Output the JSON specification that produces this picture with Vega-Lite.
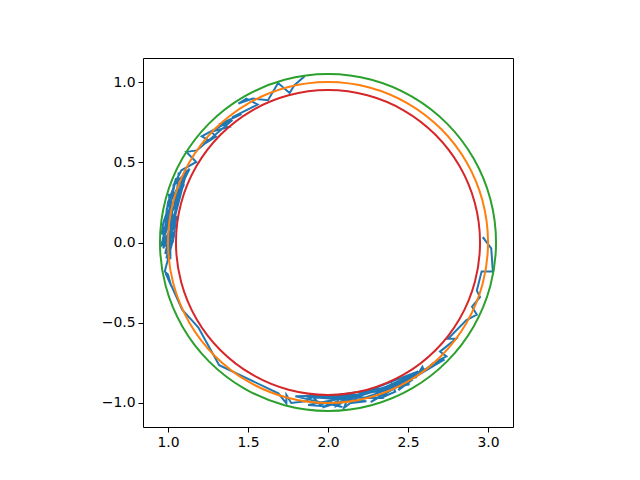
{
  "$schema": "https://vega.github.io/schema/vega-lite/v6.json",
  "width": 370,
  "height": 369,
  "autosize": {"type": "none"},
  "padding": {"left": 143, "top": 58, "right": 127, "bottom": 53},
  "background": "white",
  "config": {
    "view": {"stroke": "black", "strokeWidth": 1},
    "axis": {
      "grid": false,
      "domain": false,
      "ticks": true,
      "tickColor": "black",
      "tickSize": 5,
      "tickWidth": 1,
      "labelColor": "black",
      "labelFont": "DejaVu Sans",
      "labelFontSize": 13.9,
      "labelPadding": 3,
      "title": null
    }
  },
  "datasets": {
    "path": [
      {"o":1,"x":1.854,"y":1.036},{"o":2,"x":1.79,"y":0.98},{"o":3,"x":1.76,"y":0.932},{"o":4,"x":1.688,"y":0.994},
      {"o":5,"x":1.625,"y":0.887},{"o":6,"x":1.53,"y":0.897},{"o":7,"x":1.44,"y":0.866},{"o":8,"x":1.49,"y":0.897},
      {"o":9,"x":1.56,"y":0.86},{"o":10,"x":1.40,"y":0.78},{"o":11,"x":1.46,"y":0.80},{"o":12,"x":1.33,"y":0.74},
      {"o":13,"x":1.38,"y":0.72},{"o":14,"x":1.27,"y":0.69},{"o":15,"x":1.30,"y":0.66},{"o":16,"x":1.22,"y":0.61},
      {"o":17,"x":1.25,"y":0.64},{"o":18,"x":1.211,"y":0.662},{"o":19,"x":1.403,"y":0.764},{"o":20,"x":1.181,"y":0.574},
      {"o":21,"x":1.115,"y":0.565},{"o":22,"x":1.177,"y":0.502},{"o":23,"x":1.084,"y":0.45},{"o":24,"x":1.032,"y":0.352},
      {"o":25,"x":1.135,"y":0.46},{"o":26,"x":0.995,"y":0.177},{"o":27,"x":1.101,"y":0.364},{"o":28,"x":0.961,"y":0.054},
      {"o":29,"x":1.053,"y":0.254},{"o":30,"x":1.067,"y":0.436},{"o":31,"x":1.04,"y":0.135},{"o":32,"x":0.971,"y":-0.036},
      {"o":33,"x":0.993,"y":0.214},{"o":34,"x":1.118,"y":0.449},{"o":35,"x":1.024,"y":0.085},{"o":36,"x":1.006,"y":0.304},
      {"o":37,"x":1.03,"y":0.0},{"o":38,"x":1.054,"y":0.167},{"o":39,"x":0.982,"y":-0.071},{"o":40,"x":1.079,"y":0.335},
      {"o":41,"x":0.971,"y":0.036},{"o":42,"x":1.015,"y":-0.104},{"o":43,"x":1.015,"y":0.264},{"o":44,"x":1.042,"y":0.067},
      {"o":45,"x":0.96,"y":-0.018},{"o":46,"x":1.05,"y":0.40},{"o":47,"x":1.03,"y":0.33},{"o":48,"x":1.00,"y":0.25},
      {"o":49,"x":0.99,"y":0.18},{"o":50,"x":0.97,"y":0.12},{"o":51,"x":0.96,"y":0.05},{"o":52,"x":1.02,"y":0.15},
      {"o":53,"x":0.955,"y":-0.02},{"o":54,"x":1.03,"y":0.10},{"o":55,"x":0.99,"y":-0.10},{"o":56,"x":1.04,"y":0.05},
      {"o":57,"x":0.98,"y":-0.18},{"o":58,"x":1.0,"y":-0.20},{"o":59,"x":1.02,"y":-0.27},{"o":60,"x":0.985,"y":-0.19},
      {"o":61,"x":1.09,"y":-0.42},{"o":62,"x":1.15,"y":-0.485},{"o":63,"x":1.19,"y":-0.53},{"o":64,"x":1.32,"y":-0.765},
      {"o":65,"x":1.69,"y":-0.94},{"o":66,"x":1.74,"y":-1.003},{"o":67,"x":1.74,"y":-0.95},{"o":68,"x":1.77,"y":-1.0},
      {"o":69,"x":1.86,"y":-0.99},{"o":70,"x":1.905,"y":-0.962},{"o":71,"x":1.95,"y":-1.01},{"o":72,"x":2.01,"y":-0.993},
      {"o":73,"x":2.09,"y":-1.026},{"o":74,"x":1.796,"y":-0.959},{"o":75,"x":2.202,"y":-0.949},{"o":76,"x":1.876,"y":-1.013},
      {"o":77,"x":1.98,"y":-1.02},{"o":78,"x":2.06,"y":-0.99},{"o":79,"x":2.05,"y":-1.02},{"o":80,"x":2.12,"y":-0.98},
      {"o":81,"x":2.10,"y":-1.03},{"o":82,"x":2.18,"y":-0.97},{"o":83,"x":2.15,"y":-1.0},{"o":84,"x":2.24,"y":-0.99},
      {"o":85,"x":1.865,"y":-0.961},{"o":86,"x":2.352,"y":-0.968},{"o":87,"x":2.0,"y":-0.96},{"o":88,"x":2.51,"y":-0.883},
      {"o":89,"x":2.169,"y":-0.955},{"o":90,"x":2.563,"y":-0.803},{"o":91,"x":2.267,"y":-0.995},{"o":92,"x":2.649,"y":-0.774},
      {"o":93,"x":2.364,"y":-0.899},{"o":94,"x":1.964,"y":-1.029},{"o":95,"x":2.415,"y":-0.888},{"o":96,"x":2.728,"y":-0.728},
      {"o":97,"x":2.469,"y":-0.883},{"o":98,"x":2.28,"y":-0.95},{"o":99,"x":2.22,"y":-0.97},{"o":100,"x":2.33,"y":-0.97},
      {"o":101,"x":2.30,"y":-0.93},{"o":102,"x":2.38,"y":-0.92},{"o":103,"x":2.35,"y":-0.96},{"o":104,"x":2.42,"y":-0.93},
      {"o":105,"x":2.40,"y":-0.88},{"o":106,"x":2.47,"y":-0.88},{"o":107,"x":2.44,"y":-0.92},{"o":108,"x":2.52,"y":-0.86},
      {"o":109,"x":2.47,"y":-0.85},{"o":110,"x":2.55,"y":-0.84},{"o":111,"x":2.59,"y":-0.775},{"o":112,"x":2.60,"y":-0.80},
      {"o":113,"x":2.66,"y":-0.75},{"o":114,"x":2.74,"y":-0.71},{"o":115,"x":2.70,"y":-0.68},{"o":116,"x":2.80,"y":-0.60},
      {"o":117,"x":2.75,"y":-0.60},{"o":118,"x":2.865,"y":-0.484},{"o":119,"x":2.93,"y":-0.45},{"o":120,"x":2.90,"y":-0.40},
      {"o":121,"x":2.95,"y":-0.34},{"o":122,"x":2.93,"y":-0.30},{"o":123,"x":2.96,"y":-0.18},{"o":124,"x":3.03,"y":-0.18},
      {"o":125,"x":3.02,"y":-0.037},{"o":126,"x":2.967,"y":0.033},{"o":127,"x":2.98,"y":0.02}
    ],
    "circles": [
      {"s":"1.00","o":0,"x":3,"y":0},{"s":"1.00","o":1,"x":2.9659,"y":0.2588},{"s":"1.00","o":2,"x":2.866,"y":0.5},
      {"s":"1.00","o":3,"x":2.7071,"y":0.7071},{"s":"1.00","o":4,"x":2.5,"y":0.866},{"s":"1.00","o":5,"x":2.2588,"y":0.9659},
      {"s":"1.00","o":6,"x":2,"y":1},{"s":"1.00","o":7,"x":1.7412,"y":0.9659},{"s":"1.00","o":8,"x":1.5,"y":0.866},
      {"s":"1.00","o":9,"x":1.2929,"y":0.7071},{"s":"1.00","o":10,"x":1.134,"y":0.5},{"s":"1.00","o":11,"x":1.0341,"y":0.2588},
      {"s":"1.00","o":12,"x":1,"y":0},{"s":"1.00","o":13,"x":1.0341,"y":-0.2588},{"s":"1.00","o":14,"x":1.134,"y":-0.5},
      {"s":"1.00","o":15,"x":1.2929,"y":-0.7071},{"s":"1.00","o":16,"x":1.5,"y":-0.866},{"s":"1.00","o":17,"x":1.7412,"y":-0.9659},
      {"s":"1.00","o":18,"x":2,"y":-1},{"s":"1.00","o":19,"x":2.2588,"y":-0.9659},{"s":"1.00","o":20,"x":2.5,"y":-0.866},
      {"s":"1.00","o":21,"x":2.7071,"y":-0.7071},{"s":"1.00","o":22,"x":2.866,"y":-0.5},{"s":"1.00","o":23,"x":2.9659,"y":-0.2588},

      {"s":"1.05","o":0,"x":3.05,"y":0},{"s":"1.05","o":1,"x":3.0142,"y":0.2717},{"s":"1.05","o":2,"x":2.9093,"y":0.525},
      {"s":"1.05","o":3,"x":2.7425,"y":0.7425},{"s":"1.05","o":4,"x":2.525,"y":0.9093},{"s":"1.05","o":5,"x":2.2717,"y":1.0142},
      {"s":"1.05","o":6,"x":2,"y":1.05},{"s":"1.05","o":7,"x":1.7283,"y":1.0142},{"s":"1.05","o":8,"x":1.475,"y":0.9093},
      {"s":"1.05","o":9,"x":1.2575,"y":0.7425},{"s":"1.05","o":10,"x":1.0907,"y":0.525},{"s":"1.05","o":11,"x":0.9858,"y":0.2717},
      {"s":"1.05","o":12,"x":0.95,"y":0},{"s":"1.05","o":13,"x":0.9858,"y":-0.2717},{"s":"1.05","o":14,"x":1.0907,"y":-0.525},
      {"s":"1.05","o":15,"x":1.2575,"y":-0.7425},{"s":"1.05","o":16,"x":1.475,"y":-0.9093},{"s":"1.05","o":17,"x":1.7283,"y":-1.0142},
      {"s":"1.05","o":18,"x":2,"y":-1.05},{"s":"1.05","o":19,"x":2.2717,"y":-1.0142},{"s":"1.05","o":20,"x":2.525,"y":-0.9093},
      {"s":"1.05","o":21,"x":2.7425,"y":-0.7425},{"s":"1.05","o":22,"x":2.9093,"y":-0.525},{"s":"1.05","o":23,"x":3.0142,"y":-0.2717},

      {"s":"0.95","o":0,"x":2.95,"y":0},{"s":"0.95","o":1,"x":2.9176,"y":0.2459},{"s":"0.95","o":2,"x":2.8227,"y":0.475},
      {"s":"0.95","o":3,"x":2.6717,"y":0.6717},{"s":"0.95","o":4,"x":2.475,"y":0.8227},{"s":"0.95","o":5,"x":2.2459,"y":0.9176},
      {"s":"0.95","o":6,"x":2,"y":0.95},{"s":"0.95","o":7,"x":1.7541,"y":0.9176},{"s":"0.95","o":8,"x":1.525,"y":0.8227},
      {"s":"0.95","o":9,"x":1.3283,"y":0.6717},{"s":"0.95","o":10,"x":1.1773,"y":0.475},{"s":"0.95","o":11,"x":1.0824,"y":0.2459},
      {"s":"0.95","o":12,"x":1.05,"y":0},{"s":"0.95","o":13,"x":1.0824,"y":-0.2459},{"s":"0.95","o":14,"x":1.1773,"y":-0.475},
      {"s":"0.95","o":15,"x":1.3283,"y":-0.6717},{"s":"0.95","o":16,"x":1.525,"y":-0.8227},{"s":"0.95","o":17,"x":1.7541,"y":-0.9176},
      {"s":"0.95","o":18,"x":2,"y":-0.95},{"s":"0.95","o":19,"x":2.2459,"y":-0.9176},{"s":"0.95","o":20,"x":2.475,"y":-0.8227},
      {"s":"0.95","o":21,"x":2.6717,"y":-0.6717},{"s":"0.95","o":22,"x":2.8227,"y":-0.475},{"s":"0.95","o":23,"x":2.9176,"y":-0.2459}
    ]
  },
  "encoding": {
    "x": {
      "field": "x", "type": "quantitative",
      "scale": {"domain": [0.844, 3.156], "nice": false, "zero": false},
      "axis": {"values": [1.0, 1.5, 2.0, 2.5, 3.0], "format": ".1f", "labelExpr": "replace(datum.label, '-', '\u2212')"}
    },
    "y": {
      "field": "y", "type": "quantitative",
      "scale": {"domain": [-1.15, 1.15], "nice": false, "zero": false},
      "axis": {"values": [-1.0, -0.5, 0.0, 0.5, 1.0], "format": ".1f", "labelExpr": "replace(datum.label, '-', '\u2212')"}
    },
    "order": {"field": "o", "type": "quantitative"}
  },
  "layer": [
    {
      "data": {"name": "path"},
      "mark": {"type": "line", "strokeWidth": 2, "color": "#1f77b4", "clip": true}
    },
    {
      "data": {"name": "circles"},
      "mark": {"type": "line", "strokeWidth": 2, "interpolate": "cardinal-closed", "clip": true},
      "encoding": {
        "color": {
          "field": "s", "type": "nominal",
          "scale": {"domain": ["1.00", "1.05", "0.95"], "range": ["#ff7f0e", "#2ca02c", "#d62728"]},
          "legend": null
        }
      }
    }
  ]
}
